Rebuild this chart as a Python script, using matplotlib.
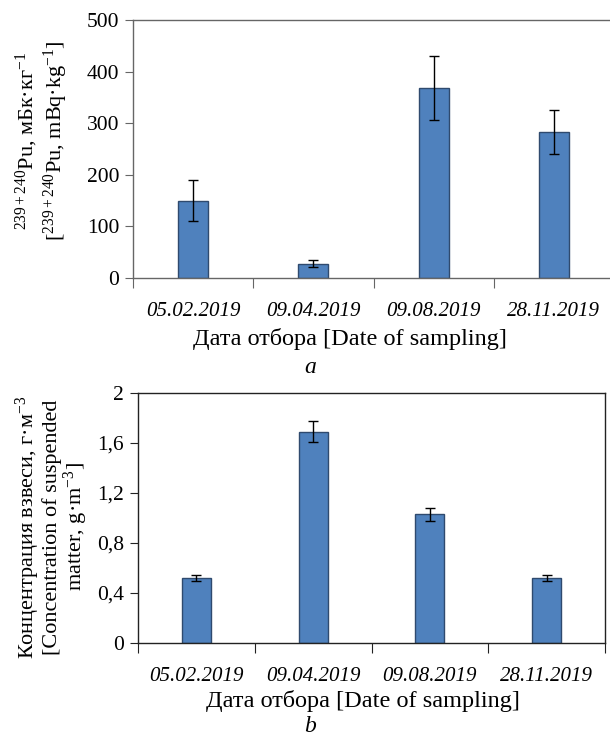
import numpy as np
import matplotlib
matplotlib.use('Agg')
import matplotlib.pyplot as plt
from matplotlib.patches import Rectangle

plt.rcParams['font.family'] = ['Liberation Serif', 'DejaVu Serif']
plt.rcParams['mathtext.fontset'] = 'custom'
plt.rcParams['mathtext.rm'] = 'Liberation Serif'
plt.rcParams['mathtext.it'] = 'Liberation Serif:italic'

dates = ['05.02.2019', '09.04.2019', '09.08.2019', '28.11.2019']
pu = [150, 28, 368, 283]          # 239+240Pu, mBq/kg
pu_err = [39, 6, 62, 43]
susp = [0.52, 1.69, 1.03, 0.52]   # suspended matter, g/m3
susp_err = [0.025, 0.085, 0.05, 0.025]

bar_col = '#4f81bd'
edge_col = '#2f4a6e'

W, H = 610, 736
fig = plt.figure(figsize=(W/100, H/100), dpi=100)

def draw(ax, vals, errs, spine_col):
    x = np.arange(len(dates))
    ax.bar(x, vals, width=0.25, color=bar_col, edgecolor=edge_col, linewidth=1.0, zorder=2)
    ax.errorbar(x, vals, yerr=errs, fmt='none', ecolor='black', elinewidth=1.0,
                capsize=3.5, capthick=1.0, zorder=3)
    ax.set_xlim(-0.5, len(dates) - 0.5)
    ax.set_xticks(x)
    ax.set_xticklabels(dates, style='italic', fontsize=15)
    ax.set_xticks(np.arange(len(dates) + 1) - 0.5, minor=True)
    ax.tick_params(axis='x', which='major', length=0, pad=17)
    ax.tick_params(axis='x', which='minor', length=7, width=0.8, direction='out',
                   color=spine_col)
    ax.tick_params(axis='y', length=6, width=0.8, direction='out', labelsize=15.5,
                   pad=4, color=spine_col)
    for s in ax.spines.values():
        s.set_linewidth(1.0)
        s.set_color(spine_col)

# panel a
ax1 = fig.add_axes([133/W, 1 - 278/H, (614 - 133)/W, 258/H])
draw(ax1, pu, pu_err, '#666666')
ax1.set_ylim(0, 500)
ax1.set_yticks([0, 100, 200, 300, 400, 500])
fig.text(350/W, 1 - 339/H, 'Дата отбора [Date of sampling]', fontsize=17.5,
         ha='center', va='center')
fig.text(42/W, 1 - 141/H, '$^{239+240}$Pu, мБк·кг$^{-1}$\n[$^{239+240}$Pu, mBq·kg$^{-1}$]',
         fontsize=16, linespacing=1.05, rotation=90, ha='center', va='center',
         multialignment='center')
fig.text(310/W, 1 - 367/H, 'a', style='italic', fontsize=17, ha='center', va='center')

# panel b
ax2 = fig.add_axes([138/W, 1 - 643/H, (605 - 138)/W, 250/H])
draw(ax2, susp, susp_err, '#222222')
ax2.set_ylim(0, 2)
ax2.set_yticks([0, 0.4, 0.8, 1.2, 1.6, 2])
ax2.set_yticklabels(['0', '0,4', '0,8', '1,2', '1,6', '2'])
fig.text(52/W, 1 - 527/H,
         'Концентрация взвеси, г·м$^{-3}$\n[Concentration of suspended\nmatter, g·m$^{-3}$]',
         fontsize=16, linespacing=1.0, rotation=90, ha='center', va='center',
         multialignment='center')
fig.text(363/W, 1 - 701/H, 'Дата отбора [Date of sampling]', fontsize=17.5,
         ha='center', va='center')
# the source image cuts this label off just above the panel letter
fig.patches.append(Rectangle((0, 0), 1, (H - 712)/H, transform=fig.transFigure,
                             facecolor='white', edgecolor='none', zorder=5))
fig.text(310/W, 1 - 726/H, 'b', style='italic', fontsize=17, ha='center', va='center',
         zorder=6)

fig.savefig('out.png', dpi=100)
